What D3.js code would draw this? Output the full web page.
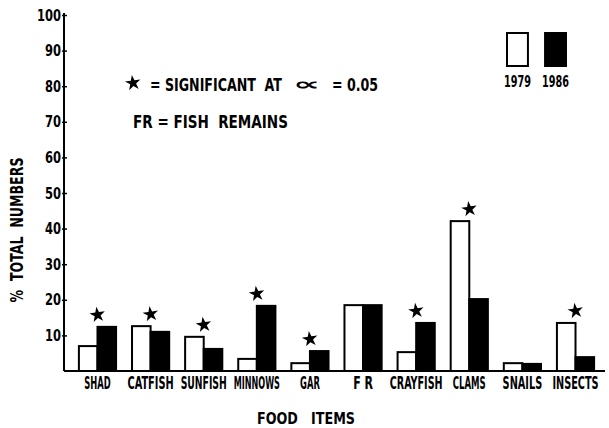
<!DOCTYPE html>
<html>
<head>
<meta charset="utf-8">
<script src="https://cdn.jsdelivr.net/npm/d3@7"></script>
<style>
  body { margin: 0; background: #fff; }
  text { font-family: "Liberation Sans Narrow", "DejaVu Sans Condensed", sans-serif; font-weight: bold; fill: #000; white-space: pre; }
</style>
</head>
<body>
<svg id="chart" width="609" height="428"></svg>
<script>
// dados
const foodItems = ["SHAD", "CATFISH", "SUNFISH", "MINNOWS", "GAR", "F R", "CRAYFISH", "CLAMS", "SNAILS", "INSECTS"];
const pct1979 = [7.0, 12.6, 9.6, 3.4, 2.2, 18.5, 5.3, 42.1, 2.2, 13.5];
const pct1986 = [12.4, 11.0, 6.2, 18.3, 5.6, 18.5, 13.5, 20.2, 2.0, 3.9];
const significant = [true, true, true, true, true, false, true, true, false, true];
const years = ["1979", "1986"];
const yTicks = [10, 20, 30, 40, 50, 60, 70, 80, 90, 100];

const svg = d3.select("#chart");
const x0 = 64, yBase = 371;

const y = d3.scaleLinear().domain([0, 100]).range([yBase, 15]);
const x = d3.scaleBand().domain(foodItems).range([70.4, 602.6]).paddingInner(0.3).paddingOuter(0.16);
const xYear = d3.scaleBand().domain(years).range([0, x.bandwidth()]);
const fill = d3.scaleOrdinal().domain(years).range(["#fff", "#000"]);

// coloca um texto em (px,py) e encolhe/estica na horizontal até largura w
function place(sel, px, py, w, rot) {
  sel.each(function () {
    const n = this.getComputedTextLength();
    const k = w / n;
    d3.select(this).attr("x", 0).attr("y", 0)
      .attr("transform", `translate(${px},${py})` + (rot ? ` rotate(${rot})` : "") + ` scale(${k},1)`);
  });
}

const rows = foodItems.map((f, i) => ({ f, sig: significant[i], vals: [pct1979[i], pct1986[i]] }));

// barras
const groups = svg.append("g").selectAll("g").data(rows).enter().append("g")
  .attr("transform", d => `translate(${x(d.f)},0)`);

groups.selectAll("rect").data(d => d.vals.map((v, j) => ({ year: years[j], v })))
  .enter().append("rect")
  .attr("x", d => xYear(d.year))
  .attr("y", d => y(d.v))
  .attr("width", xYear.bandwidth())
  .attr("height", d => yBase - y(d.v))
  .attr("fill", d => fill(d.year))
  .attr("stroke", "#000")
  .attr("stroke-width", 2);

// estrelas de significância
const star = d3.symbol().type(d3.symbolStar).size(75);
svg.append("g").selectAll("path").data(rows.filter(d => d.sig)).enter().append("path")
  .attr("d", star)
  .attr("transform", d => `translate(${x(d.f) + x.bandwidth() / 2},${y(d3.max(d.vals)) - 12}) rotate(-8)`)
  .attr("fill", "#000");

// eixo y
const yAxis = d3.axisLeft(y).tickValues(yTicks).tickSize(0).tickPadding(3);
const gy = svg.append("g").attr("transform", `translate(${x0},0)`).call(yAxis);
gy.select(".domain").remove();
gy.selectAll("text").attr("font-size", 16).attr("font-family", null)
  .each(function () {
    const n = this.getComputedTextLength();
    d3.select(this).attr("transform", `translate(-3,0) scale(0.8,1)`).attr("x", 0);
  });
gy.selectAll(".tick").append("line").attr("x1", -2).attr("x2", 3).attr("stroke", "#000").attr("stroke-width", 1.5);
svg.append("line").attr("x1", x0).attr("x2", x0).attr("y1", y(100) - 2).attr("y2", yBase)
  .attr("stroke", "#000").attr("stroke-width", 2);

// linha de base
svg.append("line").attr("x1", x0).attr("x2", 605).attr("y1", yBase).attr("y2", yBase)
  .attr("stroke", "#000").attr("stroke-width", 2);

// rótulos do eixo x (largura proporcional ao nº de letras)
svg.append("g").selectAll("text").data(foodItems).enter().append("text")
  .attr("text-anchor", "middle")
  .attr("font-size", 17)
  .text(d => d)
  .each(function (d) { place(d3.select(this), x(d) + x.bandwidth() / 2, 389, d.length * 6.6); });

// títulos dos eixos
svg.append("text").attr("text-anchor", "middle").attr("font-size", 16)
  .text("FOOD   ITEMS").call(place, 306, 424, 98);

svg.append("text").attr("text-anchor", "middle").attr("font-size", 17)
  .text("%  TOTAL  NUMBERS").call(place, 23, 230, 145, -90);

// notas
svg.append("path").attr("d", star).attr("fill", "#000").attr("transform", "translate(133,83) rotate(-8)");
svg.append("text").attr("font-size", 18)
  .text("= SIGNIFICANT  AT").call(place, 150, 91, 132);
svg.append("text").attr("text-anchor", "middle").attr("font-size", 17).attr("font-weight", "normal")
  .text("\u221D").call(place, 307, 90, 27);
svg.append("text").attr("font-size", 18)
  .text("= 0.05").call(place, 332, 91, 46);
svg.append("text").attr("font-size", 17)
  .text("FR = FISH  REMAINS").call(place, 133, 128, 155);

// legenda
const legX = d3.scaleBand().domain(years).range([507, 566]).paddingInner(0.45);
const leg = svg.append("g").selectAll("g").data(years).enter().append("g");
leg.append("rect")
  .attr("x", d => legX(d)).attr("y", 33)
  .attr("width", legX.bandwidth()).attr("height", 33)
  .attr("fill", d => fill(d)).attr("stroke", "#000").attr("stroke-width", 2);
leg.append("text")
  .attr("text-anchor", "middle").attr("font-size", 15)
  .text(d => d)
  .each(function (d) { place(d3.select(this), legX(d) + legX.bandwidth() / 2, 87, 27); });
</script>
</body>
</html>
